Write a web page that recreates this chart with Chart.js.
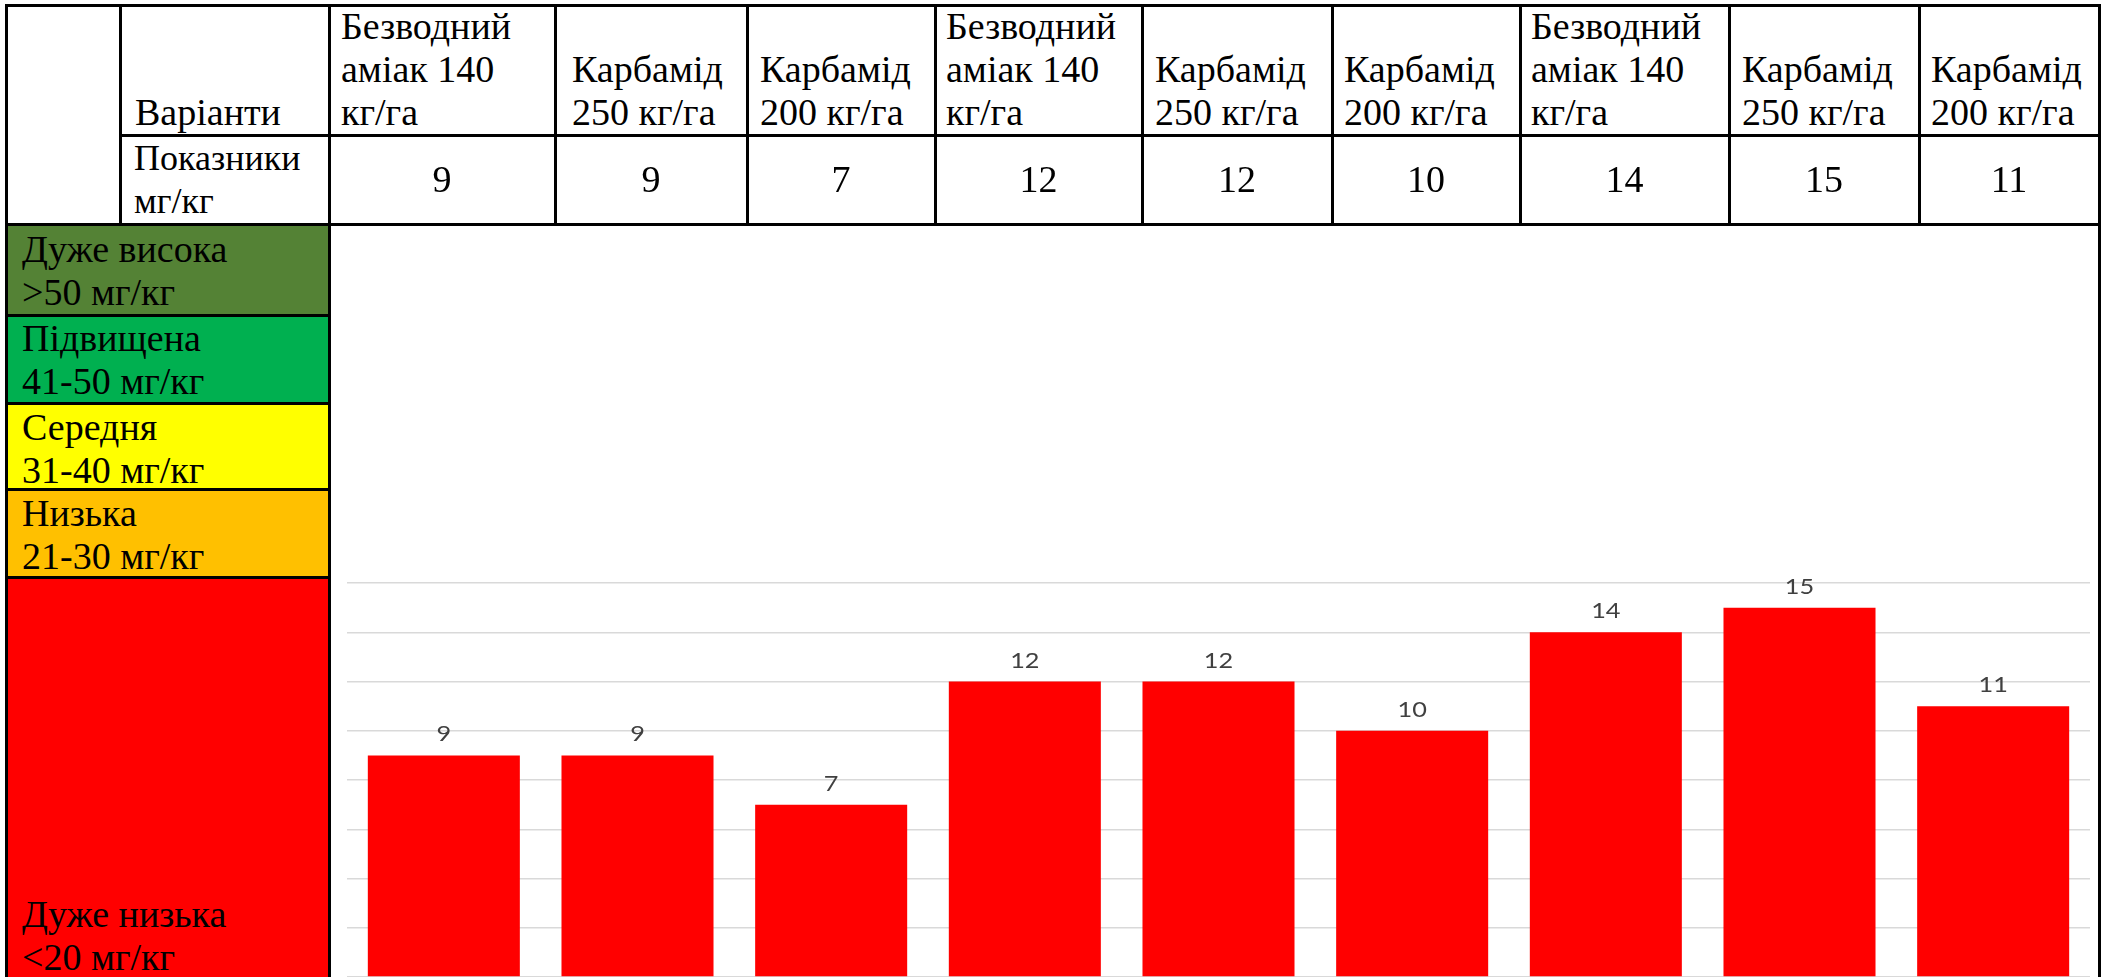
<!DOCTYPE html>
<html>
<head>
<meta charset="utf-8">
<script src="https://cdn.jsdelivr.net/npm/chart.js@4/dist/chart.umd.min.js"></script>
<style>
  html, body { margin: 0; padding: 0; background: #fff; overflow: hidden; width: 2109px; height: 977px; }
  #sheet { position: relative; width: 2109px; height: 977px; color: #000; }
  .ln { position: absolute; background: #000; }
  .fill { position: absolute; }
  .txt { position: absolute; font-family: 'Liberation Serif', serif; font-size: 38px; line-height: 43px; white-space: nowrap; }
  #chartBox { position: absolute; left: 300px; top: 500px; }
</style>
</head>
<body>
<div id="sheet">
  <div id="chartBox"><canvas id="c" width="1809" height="490"></canvas></div>
</div>
<script>
// Fertiliser variants (header row), one line per array entry
const categories = [
  ['Безводний', 'аміак 140', 'кг/га'],
  ['Карбамід', '250 кг/га'],
  ['Карбамід', '200 кг/га'],
  ['Безводний', 'аміак 140', 'кг/га'],
  ['Карбамід', '250 кг/га'],
  ['Карбамід', '200 кг/га'],
  ['Безводний', 'аміак 140', 'кг/га'],
  ['Карбамід', '250 кг/га'],
  ['Карбамід', '200 кг/га']
];

// Measured content, mg/kg
const values = [9, 9, 7, 12, 12, 10, 14, 15, 11];

// Value axis
const yMin = 0;
const yMax = 16;
const yStep = 2;

// Row headings of the table
const rowHeadVariants = ['Варіанти'];
const rowHeadValues = ['Показники', 'мг/кг'];

// Supply levels shown down the left side
const levelLabels = [
  ['Дуже висока', '>50 мг/кг'],
  ['Підвищена', '41-50 мг/кг'],
  ['Середня', '31-40 мг/кг'],
  ['Низька', '21-30 мг/кг'],
  ['Дуже низька', '<20 мг/кг']
];

// ---- presentation ----
const levelColors = ['#548235', '#00B050', '#FFFF00', '#FFC000', '#FF0000'];
const colEdges = [329, 555, 747, 935, 1142, 1332, 1520, 1729, 1919, 2099];
const colPad = [12, 17, 13, 11, 13, 12, 11, 13, 12];
const leftEdge = 6, headSplit = 120;
const rowTop = 5, rowMid = 135, rowBot = 224;
const levelEdges = [224, 315, 403, 489, 577, 990];
const levelTextTop = [228, 317, 406, 492, 893];
const LW = 3;

const sheet = document.getElementById('sheet');
function el(cls, css, html) {
  const d = document.createElement('div');
  d.className = cls;
  Object.assign(d.style, css);
  if (html !== undefined) d.innerHTML = html;
  sheet.appendChild(d);
  return d;
}
function esc(s) { return s.replace(/&/g, '&amp;').replace(/</g, '&lt;').replace(/>/g, '&gt;'); }
function hLine(y, x1, x2) { el('ln', { left: (x1 - LW / 2) + 'px', top: (y - LW / 2) + 'px', width: (x2 - x1 + LW) + 'px', height: LW + 'px' }); }
function vLine(x, y1, y2) { el('ln', { left: (x - LW / 2) + 'px', top: (y1 - LW / 2) + 'px', width: LW + 'px', height: (y2 - y1 + LW) + 'px' }); }

// level colour cells
levelLabels.forEach((lines, i) => {
  el('fill', { left: leftEdge + 'px', top: levelEdges[i] + 'px', width: (colEdges[0] - leftEdge) + 'px', height: (levelEdges[i + 1] - levelEdges[i]) + 'px', background: levelColors[i] });
  el('txt', { left: '22px', top: levelTextTop[i] + 'px' }, lines.map(esc).join('<br>'));
});

// table grid
hLine(rowTop, leftEdge, colEdges[colEdges.length - 1]);
hLine(rowMid, headSplit, colEdges[colEdges.length - 1]);
hLine(rowBot, leftEdge, colEdges[colEdges.length - 1]);
for (let i = 1; i < levelEdges.length - 1; i++) hLine(levelEdges[i], leftEdge, colEdges[0]);
vLine(leftEdge, rowTop, 990);
vLine(headSplit, rowTop, rowBot);
vLine(colEdges[0], rowTop, 990);
for (let i = 1; i < colEdges.length - 1; i++) vLine(colEdges[i], rowTop, rowBot);
vLine(colEdges[colEdges.length - 1], rowTop, 990);

// header texts (bottom aligned, last baseline ~125)
const lineH = 43, baseOff = 34, lastBase = 125;
el('txt', { left: (headSplit + 15) + 'px', top: (lastBase - baseOff - (rowHeadVariants.length - 1) * lineH) + 'px' }, rowHeadVariants.map(esc).join('<br>'));
el('txt', { left: (headSplit + 14) + 'px', top: '137px', fontSize: '36px' }, rowHeadValues.map(esc).join('<br>'));
categories.forEach((lines, i) => {
  el('txt', { left: (colEdges[i] + colPad[i]) + 'px', top: (lastBase - baseOff - (lines.length - 1) * lineH) + 'px' }, lines.map(esc).join('<br>'));
  el('txt', { left: colEdges[i] + 'px', width: (colEdges[i + 1] - colEdges[i]) + 'px', top: '158px', textAlign: 'center' }, String(values[i]));
});

// value labels above the bars
const valueLabels = {
  id: 'valueLabels',
  afterDatasetsDraw(chart) {
    const ctx = chart.ctx;
    const meta = chart.getDatasetMeta(0);
    const ds = chart.data.datasets[0].data;
    meta.data.forEach((bar, i) => {
      ctx.save();
      ctx.translate(bar.x, bar.y - 14);
      ctx.scale(1.15, 1);
      ctx.font = '22px Lato, "Open Sans", sans-serif';
      ctx.fillStyle = '#404040';
      ctx.textAlign = 'center';
      ctx.textBaseline = 'alphabetic';
      ctx.fillText(String(ds[i]), 0, 0);
      ctx.restore();
    });
  }
};

new Chart(document.getElementById('c'), {
  type: 'bar',
  data: {
    labels: categories,
    datasets: [{
      data: values,
      backgroundColor: '#FF0000',
      borderWidth: 0,
      categoryPercentage: 1,
      barPercentage: 0.785
    }]
  },
  options: {
    responsive: false,
    animation: false,
    devicePixelRatio: 1,
    layout: { padding: { left: 47, right: 19, top: 83, bottom: 13 } },
    plugins: { legend: { display: false }, tooltip: { enabled: false } },
    scales: {
      x: { display: false },
      y: {
        min: yMin, max: yMax,
        ticks: { display: false, stepSize: yStep },
        grid: { color: '#D9D9D9', lineWidth: 1.5, drawTicks: false },
        border: { display: false }
      }
    }
  },
  plugins: [valueLabels]
});
</script>
</body>
</html>
